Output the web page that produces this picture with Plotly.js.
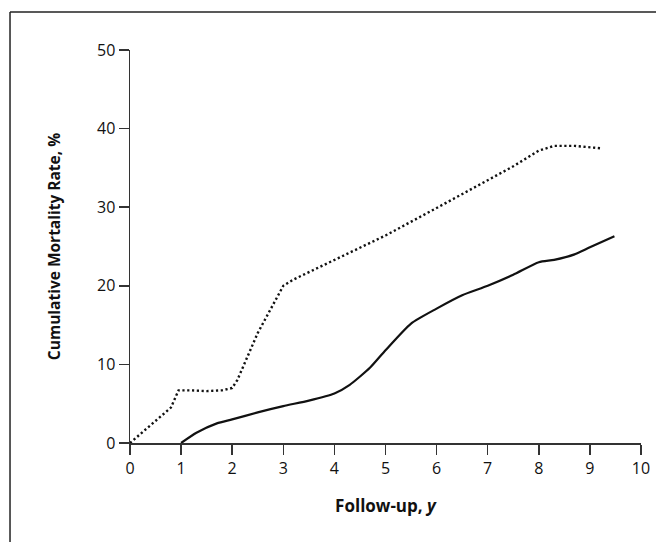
<!DOCTYPE html>
<html>
<head>
<meta charset="utf-8">
<script src="https://cdn.plot.ly/plotly-3.0.1.min.js"></script>
<style>html,body{margin:0;padding:0;background:#fff;}#chart{width:656px;height:542px;}</style>
</head>
<body>
<div id="chart"></div>
<script>
// Dotted curve (upper)
var dottedX = [0, 0.4, 0.8, 0.95, 1.2, 1.5, 1.8, 2.0, 2.1, 2.5, 2.8, 3.0, 3.2, 4.0, 5.0, 6.0, 7.0, 7.5, 8.0, 8.3, 8.7, 9.2];
var dottedY = [0, 2.3, 4.5, 6.7, 6.7, 6.6, 6.7, 7.0, 8.0, 14.0, 17.5, 20.0, 20.8, 23.3, 26.4, 29.9, 33.5, 35.2, 37.2, 37.8, 37.8, 37.5];
// Solid curve (lower)
var solidX = [1.0, 1.3, 1.7, 2.0, 2.5, 3.0, 3.5, 4.0, 4.3, 4.7, 5.0, 5.5, 6.0, 6.5, 7.0, 7.5, 8.0, 8.3, 8.7, 9.0, 9.48];
var solidY = [0, 1.3, 2.5, 3.0, 3.9, 4.7, 5.4, 6.3, 7.4, 9.6, 11.8, 15.2, 17.1, 18.8, 20.0, 21.4, 23.0, 23.3, 24.0, 24.9, 26.3];
var xTicks = [0,1,2,3,4,5,6,7,8,9,10];
var yTicks = [0,10,20,30,40,50];

var font = "'Open Sans', 'Noto Sans', sans-serif";
var traces = [
  {x: dottedX, y: dottedY, mode: 'lines', type: 'scatter',
   line: {color: '#111', width: 2.4, dash: '2.2px,2.6px', shape: 'linear'}, hoverinfo: 'skip'},
  {x: solidX, y: solidY, mode: 'lines', type: 'scatter',
   line: {color: '#111', width: 2.2, shape: 'spline', smoothing: 0.6}, hoverinfo: 'skip'}
];
var layout = {
  width: 656, height: 542,
  margin: {l: 130, r: 15, t: 50, b: 99},
  paper_bgcolor: '#fff', plot_bgcolor: '#fff',
  showlegend: false,
  font: {family: font, color: '#111', size: 16},
  xaxis: {
    range: [0, 10], tickvals: xTicks, ticktext: xTicks.map(String),
    showgrid: false, zeroline: false, showline: true, linecolor: '#333', linewidth: 1.5,
    ticks: 'outside', ticklen: 10, tickwidth: 1.5, tickcolor: '#333',
    tickfont: {family: font, size: 16, color: '#111'},
    title: {text: '<b>Follow-up, <i>y</i></b>', font: {family: font, size: 17, color: '#111'}, standoff: 22}
  },
  yaxis: {
    range: [0, 50], tickvals: yTicks, ticktext: yTicks.map(String),
    showgrid: false, zeroline: false, showline: true, linecolor: '#333', linewidth: 1.5,
    ticks: 'outside', ticklen: 10, tickwidth: 1.5, tickcolor: '#333',
    tickfont: {family: font, size: 16, color: '#111'},
    title: {text: '<b>Cumulative Mortality Rate, %</b>', font: {family: font, size: 15.5, color: '#111'}, standoff: 32}
  },
  shapes: [
    {type: 'line', xref: 'paper', yref: 'paper', x0: -0.2348, x1: 1.04, y0: 1.0967, y1: 1.0967, line: {color: '#222', width: 1.5}},
    {type: 'line', xref: 'paper', yref: 'paper', x0: -0.2348, x1: -0.2348, y0: 1.0967, y1: -0.26, line: {color: '#222', width: 1.5}}
  ]
};
Plotly.newPlot('chart', traces, layout, {displayModeBar: false, staticPlot: true});
</script>
</body>
</html>
